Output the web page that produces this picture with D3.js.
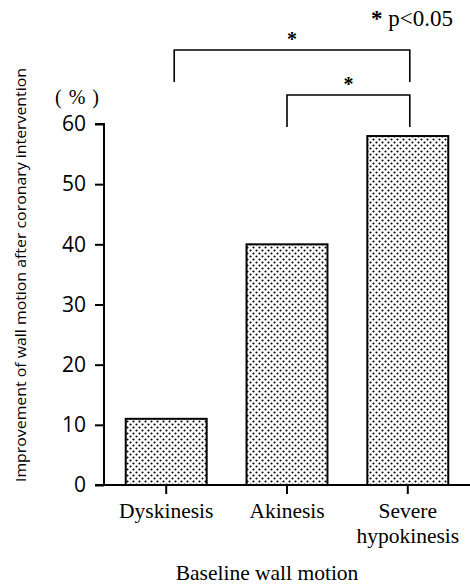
<!DOCTYPE html>
<html><head><meta charset="utf-8">
<script src="https://cdn.jsdelivr.net/npm/d3@7"></script>
<style>body{margin:0;background:#fff}svg{display:block}</style>
</head><body>
<script>
const categories = ["Dyskinesis", "Akinesis", "Severe hypokinesis"];
const categoryLines = [["Dyskinesis"], ["Akinesis"], ["Severe", "hypokinesis"]];
const values = [11, 40, 58];
const yTicks = [0, 10, 20, 30, 40, 50, 60];
const comparisons = [
  {from: "Dyskinesis", to: "Severe hypokinesis", label: "*", level: 1},
  {from: "Akinesis", to: "Severe hypokinesis", label: "*", level: 0}
];

const W = 470, H = 585;
const svg = d3.select("body").append("svg").attr("width", W).attr("height", H);

const defs = svg.append("defs");
const pat = defs.append("pattern").attr("id", "dots").attr("patternUnits", "userSpaceOnUse")
  .attr("width", 6).attr("height", 6);
pat.append("rect").attr("width", 6).attr("height", 6).attr("fill", "#fff");
pat.append("circle").attr("cx", 1.5).attr("cy", 1.5).attr("r", 1.05).attr("fill", "#000");
pat.append("circle").attr("cx", 4.5).attr("cy", 4.5).attr("r", 1.05).attr("fill", "#000");

const y = d3.scaleLinear().domain([0, 60]).range([485, 124]);
const x = d3.scaleBand().domain(categories).range([104, 470]).paddingInner(0.33).paddingOuter(0.18);

const serif = "'Liberation Serif', 'Times New Roman', serif";
const numFont = "'Open Sans', 'DejaVu Sans', sans-serif";

// y axis
const yAxis = d3.axisLeft(y).tickValues(yTicks).tickSize(9).tickPadding(9).tickFormat(d3.format("d"));
const gy = svg.append("g").attr("transform", "translate(104,0)").call(yAxis);
gy.select(".domain").attr("d", `M-9,${y(60)}H0V${y(0)}`).attr("stroke", "#000").attr("stroke-width", 2);
gy.selectAll(".tick line").attr("stroke", "#000").attr("stroke-width", 2);
gy.selectAll(".tick text").attr("font-family", numFont).attr("font-size", 21).attr("fill", "#000");

// bars
svg.selectAll("rect.bar").data(values).join("rect").attr("class", "bar")
  .attr("x", (d, i) => x(categories[i]))
  .attr("width", x.bandwidth())
  .attr("y", d => y(d))
  .attr("height", d => y(0) - y(d))
  .attr("fill", "url(#dots)")
  .attr("stroke", "#000").attr("stroke-width", 2);

// x axis
const xAxis = d3.axisBottom(x).tickSize(9).tickFormat("");
const gx = svg.append("g").attr("transform", `translate(0,${y(0)})`).call(xAxis);
gx.select(".domain").attr("d", "M95,0H470").attr("stroke", "#000").attr("stroke-width", 2);
gx.selectAll(".tick line").attr("stroke", "#000").attr("stroke-width", 2);

// category labels
categories.forEach((c, i) => {
  const t = svg.append("text").attr("x", x(c) + x.bandwidth() / 2).attr("y", 518)
    .attr("text-anchor", "middle").attr("font-family", serif).attr("font-size", 21.5).attr("fill", "#000");
  categoryLines[i].forEach((ln, j) => {
    t.append("tspan").attr("x", x(c) + x.bandwidth() / 2).attr("dy", j === 0 ? 0 : 25).text(ln);
  });
});

// x title
svg.append("text").attr("x", 267).attr("y", 580).attr("text-anchor", "middle")
  .attr("font-family", serif).attr("font-size", 21.5).attr("fill", "#000").text("Baseline wall motion");

// y title
svg.append("text").attr("transform", "translate(26,275) rotate(-90)").attr("text-anchor", "middle")
  .attr("font-family", numFont).attr("font-size", 14).attr("fill", "#000")
  .attr("textLength", 414).attr("lengthAdjust", "spacingAndGlyphs")
  .text("Improvement of wall motion after coronary intervention");

// unit
svg.append("text").attr("x", 77).attr("y", 104).attr("text-anchor", "middle")
  .attr("font-family", serif).attr("font-size", 20).attr("fill", "#000")
  .attr("textLength", 44).attr("lengthAdjust", "spacing").text("(%)");

// significance brackets
const center = c => x(c) + x.bandwidth() / 2;
comparisons.forEach(cmp => {
  const top = cmp.level === 1 ? 50 : 95;
  const x1 = cmp.level === 1 ? center(cmp.from) + 8 : center(cmp.from);
  const x2 = center(cmp.to) + 2;
  svg.append("path").attr("d", `M${x1},${top + 32}V${top}H${x2}V${top + 32}`)
    .attr("fill", "none").attr("stroke", "#000").attr("stroke-width", 1.6);
  svg.append("text").attr("x", (x1 + x2) / 2).attr("y", top - 4).attr("text-anchor", "middle")
    .attr("font-family", serif).attr("font-size", 20).attr("font-weight", "bold").attr("fill", "#000").text(cmp.label);
});

// legend
svg.append("text").attr("x", 453).attr("y", 26).attr("text-anchor", "end")
  .attr("font-family", serif).attr("font-size", 23).attr("fill", "#000")
  .html('<tspan font-weight="bold">*</tspan> p&lt;0.05');
</script>
</body></html>
